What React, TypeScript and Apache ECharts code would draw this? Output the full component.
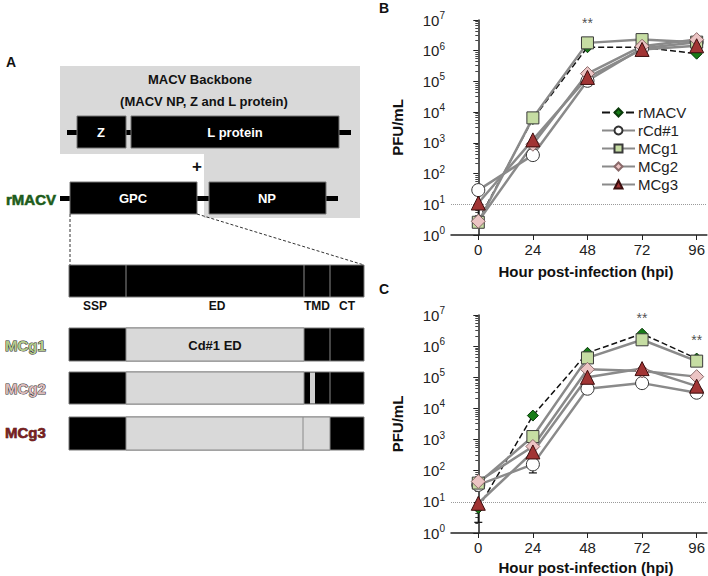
import React, { useEffect, useRef } from "react";
import * as echarts from "echarts";

const hours = [0, 24, 48, 72, 96];
const seriesNames = ["rMACV", "rCd#1", "MCg1", "MCg2", "MCg3"];

// Panel B (PFU/mL)
const bRMACV = [3, 6000, 1.3e6, 1.3e6, 8.0e5];
const bRCd1 = [29, 400, 1.05e5, 1.2e6, 1.9e6];
const bMCg1 = [2.6, 6500, 1.8e6, 2.3e6, 1.9e6];
const bMCg2 = [2.8, 900, 1.8e5, 1.4e6, 2.3e6];
const bMCg3 = [11, 1250, 1.35e5, 1.1e6, 1.45e6];

// Panel C (PFU/mL)
const cRMACV = [6.3, 5900, 6.1e5, 2.5e6, 4.0e5];
const cRCd1 = [35, 160, 4.3e4, 6.5e4, 3.2e4];
const cMCg1 = [40, 1250, 4.2e5, 1.6e6, 3.3e5];
const cMCg2 = [45, 600, 1.8e5, 1.6e5, 1.05e5];
const cMCg3 = [9, 400, 1.0e5, 1.9e5, 5.2e4];

// error bars [hour, low, high]
const bErr = [[0, 4, 10], [24, 6300, 9500]];
const cErr = [[0, 2.2, 6.3], [24, 85, 160], [0, 25, 40]];

// significance marks [hour, PFU/mL]
const bStars = [[48, 1e7]];
const cStars = [[72, 1e7], [96, 2.0e6]];

const xTicks = [0, 24, 48, 72, 96];
const limitOfDetection = 10;

const FONT = 'Arial, "Liberation Sans", sans-serif';

const styles: Record<string, any> = {
  rMACV: { symbol: "diamond", size: 11, fill: "#177c17", border: "#0a3a0a", line: "#111111", dash: "dashed", lw: 1.5 },
  "rCd#1": { symbol: "circle", size: 13, fill: "#ffffff", border: "#333333", line: "#8a8a8a", dash: "solid", lw: 2.5 },
  MCg1: { symbol: "rect", size: 12, fill: "#c6dda3", border: "#3a3a3a", line: "#8a8a8a", dash: "solid", lw: 2.5 },
  MCg2: { symbol: "diamond", size: 14, fill: "#ecc4c4", border: "#8a6a6a", line: "#8a8a8a", dash: "solid", lw: 2.5 },
  MCg3: { symbol: "triangle", size: 14, fill: "#a13434", border: "#3c0e0e", line: "#8a8a8a", dash: "solid", lw: 2.5 },
};

function lineSeries(name: string, vals: number[], idx: number, withLod: boolean) {
  const s = styles[name];
  const out: any = {
    type: "line",
    name,
    xAxisIndex: idx,
    yAxisIndex: idx,
    data: hours.map((h, i) => [h, vals[i]]),
    symbol: s.symbol,
    symbolSize: s.size,
    itemStyle: { color: s.fill, borderColor: s.border, borderWidth: 1 },
    lineStyle: { color: s.line, width: s.lw, type: s.dash },
    z: 3,
  };
  if (withLod) {
    out.markLine = {
      silent: true,
      symbol: ["none", "none"],
      label: { show: false },
      lineStyle: { color: "#9a9a9a", type: "dotted", width: 1 },
      data: [{ yAxis: limitOfDetection }],
      z: 1,
    };
  }
  return out;
}

function errSeries(data: number[][], idx: number) {
  return {
    type: "custom",
    xAxisIndex: idx,
    yAxisIndex: idx,
    data,
    z: 2,
    silent: true,
    renderItem: (params: any, api: any) => {
      const x = api.value(0);
      const p1 = api.coord([x, api.value(1)]);
      const p2 = api.coord([x, api.value(2)]);
      const st = { stroke: "#111", lineWidth: 1.2 };
      return {
        type: "group",
        children: [
          { type: "line", shape: { x1: p1[0], y1: p1[1], x2: p2[0], y2: p2[1] }, style: st },
          { type: "line", shape: { x1: p1[0] - 4, y1: p1[1], x2: p1[0] + 4, y2: p1[1] }, style: st },
          { type: "line", shape: { x1: p2[0] - 4, y1: p2[1], x2: p2[0] + 4, y2: p2[1] }, style: st },
        ],
      };
    },
  };
}

function starSeries(data: number[][], idx: number) {
  return {
    type: "scatter",
    xAxisIndex: idx,
    yAxisIndex: idx,
    data,
    clip: false,
    silent: true,
    symbolSize: 1,
    itemStyle: { color: "rgba(0,0,0,0)" },
    label: { show: true, position: "inside", formatter: "**", fontSize: 14, color: "#222", fontFamily: FONT, offset: [0, 3] },
    z: 5,
  };
}

function xAxis(idx: number) {
  return {
    type: "value",
    gridIndex: idx,
    min: -12,
    max: 100.5,
    axisLine: { show: true, lineStyle: { color: "#222", width: 1.5 } },
    axisTick: { show: true, customValues: xTicks, length: 5, lineStyle: { color: "#222" } },
    axisLabel: { customValues: xTicks, fontSize: 15, color: "#222", margin: 7, fontFamily: FONT },
    splitLine: { show: false },
  };
}

function yAxis(idx: number) {
  return {
    type: "log",
    logBase: 10,
    gridIndex: idx,
    min: 1,
    max: 1e7,
    interval: 1,
    name: "PFU/mL",
    nameLocation: "middle",
    nameGap: 46,
    nameTextStyle: { fontSize: 15, fontWeight: "bold", color: "#111", fontFamily: FONT },
    axisLine: { show: true, lineStyle: { color: "#222", width: 1.5 } },
    axisTick: { show: true, length: 5, lineStyle: { color: "#222" } },
    minorTick: { show: true, splitNumber: 8, length: 3, lineStyle: { color: "#444" } },
    splitLine: { show: false },
    axisLabel: {
      margin: 6,
      formatter: (v: number) => `{b|10}{s|${Math.round(Math.log10(v))}}`,
      rich: {
        b: { fontSize: 15, color: "#222", fontFamily: FONT },
        s: { fontSize: 10, color: "#222", fontFamily: FONT, verticalAlign: "bottom", padding: [0, 0, 9, 0] },
      },
    },
  };
}

function panelA(): any[] {
  const g: any[] = [];
  const box = (x1: number, y1: number, x2: number, y2: number, fill: string, stroke = "#777") => ({
    type: "rect",
    shape: { x: x1, y: y1, width: x2 - x1, height: y2 - y1 },
    style: { fill, stroke, lineWidth: 1 },
  });
  const txt = (text: string, x: number, y: number, o: any = {}) => ({
    type: "text",
    x,
    y,
    style: {
      text,
      fill: o.fill || "#111",
      font: `bold ${o.size || 13}px ${FONT}`,
      align: o.align || "center",
      verticalAlign: "middle",
      stroke: o.stroke,
      lineWidth: o.lw || 0,
    },
  });
  const vline = (x: number, y1: number, y2: number) => ({
    type: "line",
    shape: { x1: x, y1, x2: x, y2 },
    style: { stroke: "#8a8a8a", lineWidth: 1 },
  });
  g.push(txt("A", 11, 62, { size: 14 }));
  g.push({
    type: "polygon",
    shape: { points: [[60, 66], [360, 66], [360, 218], [204, 218], [204, 154], [60, 154]] },
    style: { fill: "#d9d9d9" },
  });
  g.push(txt("MACV Backbone", 200, 79));
  g.push(txt("(MACV NP, Z and L protein)", 204, 101));
  // connectors
  [[67, 77, 130], [126, 131, 130], [339, 351, 130], [60, 70, 196], [197, 209, 196], [326, 338, 196]].forEach(([a, b, y]) =>
    g.push({ type: "rect", shape: { x: a, y, width: b - a, height: 5 }, style: { fill: "#000" } })
  );
  g.push(box(77, 116, 126, 148, "#000"));
  g.push(box(131, 116, 339, 148, "#000"));
  g.push(txt("Z", 101, 132, { fill: "#fff" }));
  g.push(txt("L protein", 235, 132, { fill: "#fff" }));
  g.push(txt("+", 197, 166, { size: 17 }));
  g.push(txt("rMACV", 56, 199, { size: 15, align: "right", fill: "#1d5a1d", stroke: "#3f7f35", lw: 0.7 }));
  g.push(box(70, 182, 197, 214, "#000"));
  g.push(box(209, 182, 326, 214, "#000"));
  g.push(txt("GPC", 133, 198, { fill: "#fff" }));
  g.push(txt("NP", 267, 198, { fill: "#fff" }));
  g.push({ type: "line", shape: { x1: 70, y1: 214, x2: 70, y2: 265 }, style: { stroke: "#333", lineWidth: 1, lineDash: [3, 2] } });
  g.push({ type: "line", shape: { x1: 197, y1: 214, x2: 364, y2: 265 }, style: { stroke: "#333", lineWidth: 1, lineDash: [3, 2] } });
  // GPC domains
  g.push(box(69, 265, 364, 297, "#000"));
  g.push(vline(126, 265, 297), vline(304, 265, 297), vline(330, 265, 297));
  g.push(txt("SSP", 95, 306, { size: 12 }));
  g.push(txt("ED", 217, 306, { size: 12 }));
  g.push(txt("TMD", 317, 306, { size: 12 }));
  g.push(txt("CT", 347, 306, { size: 12 }));
  // MCg1
  g.push(box(69, 328, 364, 361, "#000"));
  g.push(box(126, 328, 304, 361, "#d9d9d9", "#8a8a8a"));
  g.push(vline(330, 328, 361));
  g.push(txt("Cd#1 ED", 215, 345));
  // MCg2
  g.push(box(69, 372, 364, 404, "#000"));
  g.push(box(126, 372, 304, 404, "#d9d9d9", "#8a8a8a"));
  g.push({ type: "rect", shape: { x: 310, y: 372.5, width: 5, height: 31 }, style: { fill: "#d0d0d0" } });
  g.push(vline(330, 372, 404));
  // MCg3
  g.push(box(69, 417, 364, 450, "#000"));
  g.push(box(126, 417, 330, 450, "#d9d9d9", "#8a8a8a"));
  g.push(vline(303, 417, 450));
  g.push(txt("MCg1", 5, 345, { size: 15, align: "left", fill: "#b3c98c", stroke: "#2a2a2a", lw: 1 }));
  g.push(txt("MCg2", 5, 388, { size: 15, align: "left", fill: "#dcbcbc", stroke: "#2f2f2f", lw: 1 }));
  g.push(txt("MCg3", 5, 432, { size: 15, align: "left", fill: "#7a1f1f", stroke: "#3a0a0a", lw: 0.6 }));
  // panel letters
  g.push(txt("B", 384, 8, { size: 14 }));
  g.push(txt("C", 384, 289, { size: 14 }));
  // x-axis titles
  g.push(txt("Hour post-infection (hpi)", 586, 271, { size: 15 }));
  g.push(txt("Hour post-infection (hpi)", 586, 567, { size: 15 }));
  return g;
}

export default function App() {
  const ref = useRef<HTMLDivElement>(null);
  useEffect(() => {
    if (!ref.current) return;
    const chart = echarts.init(ref.current, null, { renderer: "svg" });
    const bSets = [bRMACV, bRCd1, bMCg1, bMCg2, bMCg3];
    const cSets = [cRMACV, cRCd1, cMCg1, cMCg2, cMCg3];
    const series: any[] = [errSeries(bErr, 0), errSeries(cErr, 1)];
    seriesNames.forEach((n, i) => series.push(lineSeries(n, bSets[i], 0, i === 1)));
    seriesNames.forEach((n, i) => series.push(lineSeries(n, cSets[i], 1, i === 1)));
    series.push(starSeries(bStars, 0), starSeries(cStars, 1));
    chart.setOption({
      animation: false,
      backgroundColor: "#ffffff",
      textStyle: { fontFamily: FONT },
      grid: [
        { left: 451, top: 20, width: 257, height: 215 },
        { left: 451, top: 315, width: 257, height: 218 },
      ],
      xAxis: [xAxis(0), xAxis(1)],
      yAxis: [yAxis(0), yAxis(1)],
      legend: {
        data: seriesNames,
        orient: "vertical",
        left: 601,
        top: 105,
        itemWidth: 33,
        itemHeight: 10,
        itemGap: 3,
        padding: 0,
        selectedMode: false,
        textStyle: { fontSize: 15, color: "#222", fontFamily: FONT, padding: [0, 0, 0, -2] },
      },
      series,
      graphic: panelA(),
    });
    return () => chart.dispose();
  }, []);
  return <div ref={ref} style={{ width: 708, height: 576, position: "absolute", left: 0, top: 0 }} />;
}
